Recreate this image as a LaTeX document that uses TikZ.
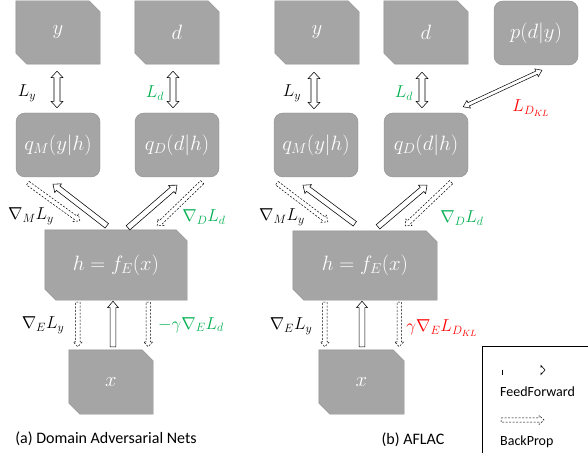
\documentclass[tikz,border=0pt]{standalone}
\usepackage[no-math]{fontspec}
\setmainfont{Carlito}
\usepackage{amsmath}
\usetikzlibrary{calc,backgrounds}
\definecolor{boxgray}{HTML}{A5A5A5}
\definecolor{boxedge}{HTML}{8C8C8C}
\definecolor{lossgreen}{HTML}{00B050}
\definecolor{klred}{HTML}{FF0000}

\newcommand\boxfont{\fontsize{20}{22}\selectfont}
\newcommand\lblfont{\fontsize{17.5}{20}\selectfont}
\newcommand\snipsize{11}

% fill of a box with snipped top-right and bottom-left corners
\newcommand\snipfill[1]{%
  \filldraw[fill=boxgray, draw=boxedge, line width=0.4pt]
    (#1.north west) -- ($(#1.north east)+(-\snipsize,0)$) -- ($(#1.north east)+(0,\snipsize)$)
    -- (#1.south east) -- ($(#1.south west)+(\snipsize,0)$) -- ($(#1.south west)+(0,-\snipsize)$) -- cycle;}

% hollow block arrow, one head
\newcommand\onewayarrow[3][]{%
  \begin{scope}[#1]
  \coordinate (ta) at (#2); \coordinate (tb) at (#3);
  \coordinate (th) at ($(tb)!\ahl!(ta)$);
  \filldraw ($(ta)!\aw!90:(tb)$) -- ($(th)!\aw!90:(tb)$) -- ($(th)!\ahw!90:(tb)$) -- (tb)
    -- ($(th)!\ahw!-90:(tb)$) -- ($(th)!\aw!-90:(tb)$) -- ($(ta)!\aw!-90:(tb)$) -- cycle;
  \end{scope}}

% hollow block arrow, two heads
\newcommand\twowayarrow[3][]{%
  \begin{scope}[#1]
  \coordinate (ta) at (#2); \coordinate (tb) at (#3);
  \coordinate (th) at ($(tb)!\ahl!(ta)$);
  \coordinate (tt) at ($(ta)!\ahl!(tb)$);
  \filldraw (ta) -- ($(tt)!\ahw!90:(tb)$) -- ($(tt)!\aw!90:(tb)$) -- ($(th)!\aw!90:(tb)$)
    -- ($(th)!\ahw!90:(tb)$) -- (tb) -- ($(th)!\ahw!-90:(tb)$) -- ($(th)!\aw!-90:(tb)$)
    -- ($(tt)!\aw!-90:(tb)$) -- ($(tt)!\ahw!-90:(tb)$) -- cycle;
  \end{scope}}

\tikzset{
  snipbox/.style={rectangle, inner sep=0pt, minimum width=84pt, minimum height=63pt, text=white, font=\boxfont},
  roundbox/.style={rectangle, rounded corners=9pt, fill=boxgray, draw=boxedge, line width=0.4pt, inner sep=0pt,
    minimum width=84pt, minimum height=64pt, text=white, font=\boxfont},
  lbl/.style={inner sep=0pt, font=\lblfont},
  ffarrow/.style={draw=black, fill=white, line width=0.55pt, /utils/exec={\def\aw{2.8pt}\def\ahw{5.5pt}\def\ahl{6.5pt}}},
  bparrow/.style={draw=black, fill=white, line width=0.5pt, dash pattern=on 2pt off 1.5pt,
    /utils/exec={\def\aw{2.2pt}\def\ahw{4.5pt}\def\ahl{5pt}}},
  lossarrow/.style={draw=black, fill=white, line width=0.55pt, /utils/exec={\def\aw{3pt}\def\ahw{6pt}\def\ahl{6.5pt}}},
  klarrow/.style={draw=black, fill=white, line width=0.5pt, /utils/exec={\def\aw{1.8pt}\def\ahw{4.2pt}\def\ahl{6pt}}}
}

\begin{document}
\begin{tikzpicture}[x=1pt, y=-1pt]
\useasboundingbox (0,0) rectangle (588,470);

% ---- (a) Domain Adversarial Nets ----
\node[snipbox] (yA) at (58,32.5) {$y$};
\node[snipbox] (dA) at (177,32.5) {$d$};
\node[roundbox] (qmA) at (58,145) {$q_M(y|h)$};
\node[roundbox] (qdA) at (177,145) {$q_D(d|h)$};
\node[snipbox, minimum width=142pt, minimum height=70pt] (hA) at (116,265) {$h=f_E(x)$};
\node[snipbox, minimum height=64pt] (xA) at (111,382) {$x$};

\twowayarrow[lossarrow]{$(yA.south)+(-1,7)$}{$(qmA.north)+(-1,-5)$}
\twowayarrow[lossarrow]{$(dA.south)+(-4,7)$}{$(qdA.north)+(-4,-5)$}
\onewayarrow[bparrow]{$(qmA.south west)+(12,6)$}{$(hA.north west)+(35,-9)$}
\onewayarrow[ffarrow]{$(hA.north west)+(62,-4)$}{$(qmA.south)+(-5,7)$}
\onewayarrow[ffarrow]{$(hA.north)+(12,-2)$}{$(qdA.south)+(0,8)$}
\onewayarrow[bparrow]{$(qdA.south east)+(-17,5)$}{$(hA.north east)+(-30,-4)$}
\onewayarrow[bparrow]{$(hA.south west)+(33,2)$}{$(xA.north west)+(9,-3)$}
\onewayarrow[ffarrow]{$(xA.north)+(2,-3)$}{$(hA.south)+(-3,1)$}
\onewayarrow[bparrow]{$(hA.south east)+(-39,2)$}{$(xA.north east)+(-5,-3)$}

\node[lbl] (LyA) at (27,93) {$L_y$};
\node[lbl, lossgreen] (LdA) at (155,93) {$L_d$};
\node[lbl] (gMA) at (31,216) {$\nabla_M L_y$};
\node[lbl, lossgreen] (gDA) at (204,217) {$\nabla_D L_d$};
\node[lbl] (gEA) at (43,325) {$\nabla_E L_y$};
\node[lbl, lossgreen] (gEdA) at (191,325) {$-\gamma\nabla_E L_d$};
\node[font=\fontsize{16}{19}\selectfont, inner sep=0pt] (capA) at (106,439) {(a) Domain Adversarial Nets};

% ---- (b) AFLAC ----
\node[snipbox] (yB) at (317,32.5) {$y$};
\node[snipbox] (dB) at (426,32.5) {$d$};
\node[roundbox] (pB) at (536,33) {$p(d|y)$};
\node[roundbox] (qmB) at (316,145) {$q_M(y|h)$};
\node[roundbox] (qdB) at (426,145) {$q_D(d|h)$};
\node[snipbox, minimum width=144pt, minimum height=69pt] (hB) at (365,265.5) {$h=f_E(x)$};
\node[snipbox, minimum width=85pt, minimum height=64pt] (xB) at (361.5,382) {$x$};

\twowayarrow[lossarrow]{$(yB.south)+(-3,8)$}{$(qmB.north)+(-2,-4)$}
\twowayarrow[lossarrow]{$(dB.south)+(-4,8)$}{$(qdB.north)+(-4,-5)$}
\twowayarrow[klarrow]{$(qdB.north east)+(-5,-6)$}{$(pB.south)+(6,5)$}
\onewayarrow[bparrow]{$(qmB.south west)+(3,6)$}{$(hB.north west)+(35,-9)$}
\onewayarrow[ffarrow]{$(hB.north west)+(62,-7)$}{$(qmB.south)+(-13,8)$}
\onewayarrow[ffarrow]{$(hB.north)+(13,-4)$}{$(qdB.south)+(1,8)$}
\onewayarrow[bparrow]{$(qdB.south east)+(-17,5)$}{$(hB.north east)+(-32,-5)$}
\onewayarrow[bparrow]{$(hB.south west)+(32,2)$}{$(xB.north west)+(6,-3)$}
\onewayarrow[ffarrow]{$(xB.north)+(0.5,-3)$}{$(hB.south)+(-3,1)$}
\onewayarrow[bparrow]{$(hB.south east)+(-38,2)$}{$(xB.north east)+(-5,-3)$}

\node[lbl] (LyB) at (292,93) {$L_y$};
\node[lbl, lossgreen] (LdB) at (404,93) {$L_d$};
\node[lbl, klred] (LklB) at (531,108) {$L_{D_{KL}}$};
\node[lbl] (gMB) at (282,217) {$\nabla_M L_y$};
\node[lbl, lossgreen] (gDB) at (462,218) {$\nabla_D L_d$};
\node[lbl] (gEB) at (291,326) {$\nabla_E L_y$};
\node[lbl, klred] (gEklB) at (442,328) {$\gamma\nabla_E L_{D_{KL}}$};
\node[font=\fontsize{16}{19}\selectfont, inner sep=0pt] (capB) at (413,440) {(b) AFLAC};

% legend
\coordinate (legA) at (482,453);
\coordinate (legB) at (482,346);
\coordinate (legC) at (592,346);
\draw[line width=0.7pt] (legA) -- (legB) -- (legC);
\coordinate (ffL) at (502,372);
\coordinate (ffR) at (545,370);
\draw[line width=0.6pt] ($(ffL)+(0,-2.5)$) -- ($(ffL)+(0,2.5)$);
\draw[line width=0.6pt] ($(ffR)+(-4,-2.5)$) -- ($(ffR)+(-4,-4.5)$) -- (ffR) -- ($(ffR)+(-4,4.5)$) -- ($(ffR)+(-4,2.5)$);
\node[anchor=west, inner sep=0pt, font=\fontsize{14}{16}\selectfont] (ffT) at (500,392) {FeedForward};
\coordinate (bpL) at (501,420);
\coordinate (bpR) at (544,420);
\onewayarrow[bparrow]{bpL}{bpR}
\node[anchor=west, inner sep=0pt, font=\fontsize{14}{16}\selectfont] (bpT) at (500,442) {BackProp};

\begin{scope}[on background layer]
\snipfill{yA} \snipfill{dA} \snipfill{hA} \snipfill{xA}
\snipfill{yB} \snipfill{dB} \snipfill{hB} \snipfill{xB}
\end{scope}
\end{tikzpicture}
\end{document}
